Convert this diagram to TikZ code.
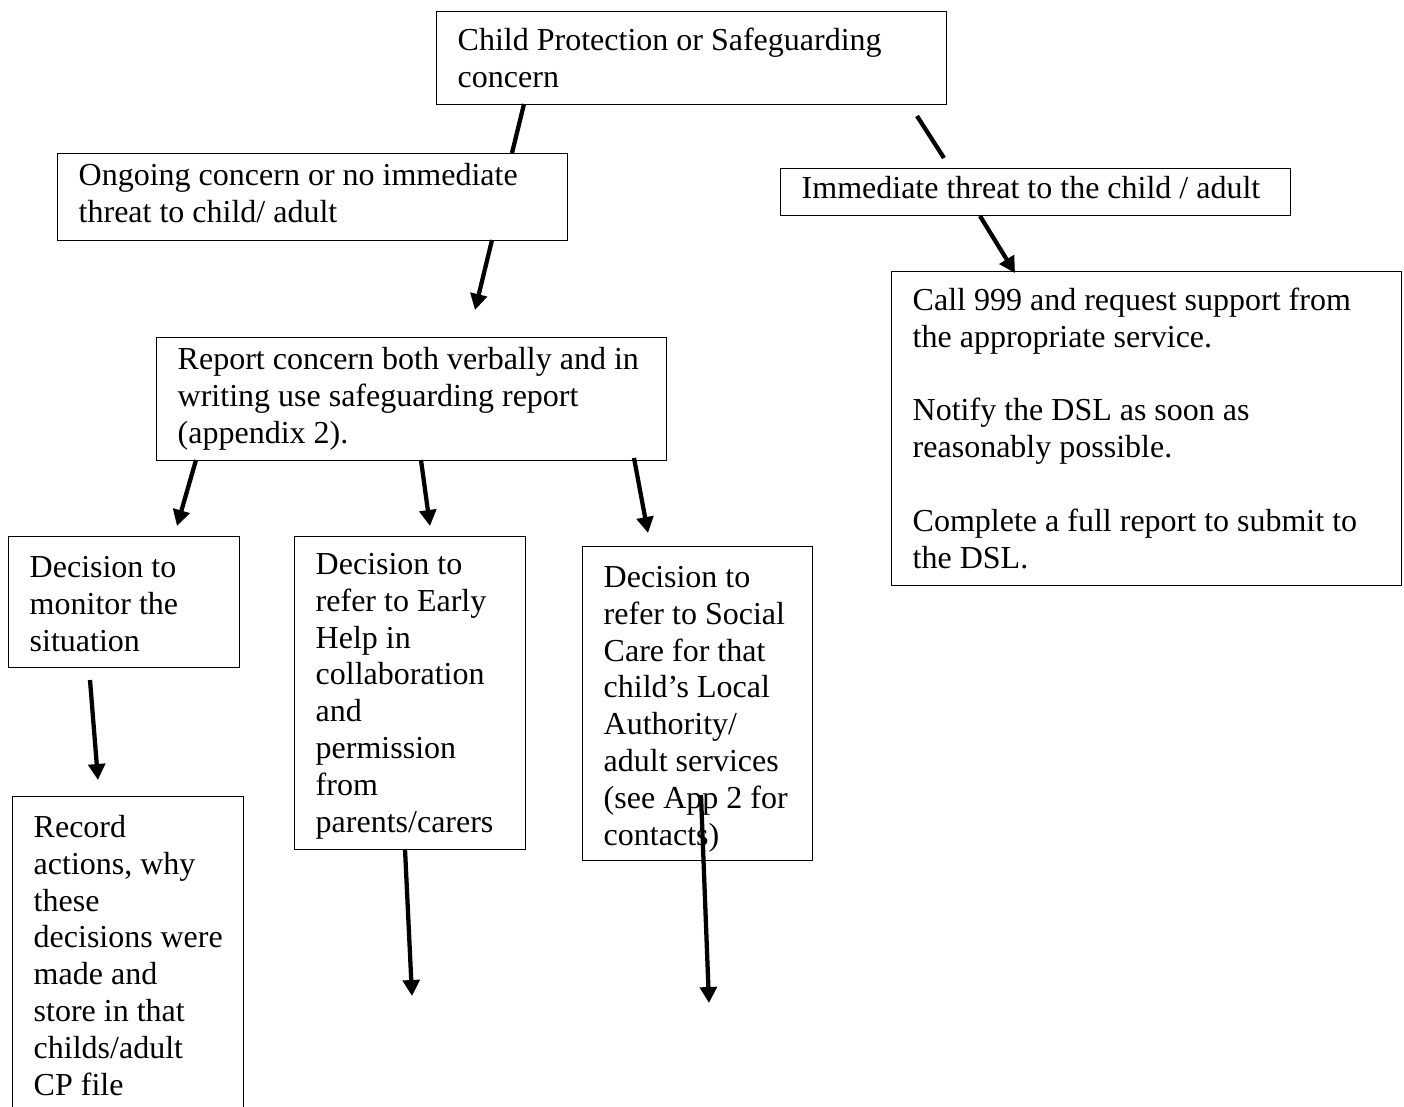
\documentclass[tikz,border=0pt]{standalone}
\usepackage{fontspec}
\setmainfont{Liberation Serif}
\usepackage{tikz}
\usetikzlibrary{arrows.meta}
\newlength\px
\setlength\px{0.75pt}
% width, height, top pad (all px), text
\newcommand{\boxtext}[4]{\begin{minipage}[t][#2\px][t]{#1\px}\vspace*{#3\px}\raggedright\strut #4\end{minipage}}
\tikzset{
  panel/.style={draw,line width=1.1pt,anchor=north west,inner xsep=15.75pt,inner ysep=0pt},
  link/.style={line width=3.2pt},
  pointer/.style={link,-{Triangle[length=12pt,width=12.5pt]}}
}

\begin{document}
\begin{tikzpicture}[x=0.75pt,y=-0.75pt,font=\fontsize{24pt}{27.6pt}\selectfont]
  \useasboundingbox (0,0) rectangle (1404,1107);
  % boxes
  \node[panel] (concern) at (436,11) {\boxtext{468}{93}{13}{Child Protection or Safeguarding\\concern}};
  \node[panel] (ongoing) at (57,153) {\boxtext{468}{87}{6}{Ongoing concern or no immediate\\threat to child/ adult}};
  \node[panel] (threat) at (780,168) {\boxtext{468}{47}{4}{Immediate threat to the child / adult}};
  \node[panel] (call) at (891,271) {\boxtext{468}{314}{13}{Call 999 and request support from\\the appropriate service.\\[\baselineskip]Notify the DSL as soon as\\reasonably possible.\\[\baselineskip]Complete a full report to submit to\\the DSL.}};
  \node[panel] (report) at (156,337) {\boxtext{468}{123}{6}{Report concern both verbally and in\\writing use safeguarding report\\(appendix 2).}};
  \node[panel] (monitor) at (8,536) {\boxtext{189}{131}{15}{Decision to\\monitor the\\situation}};
  \node[panel] (earlyhelp) at (294,536) {\boxtext{189}{313}{12}{Decision to\\refer to Early\\Help in\\collaboration\\and\\permission\\from\\parents/carers}};
  \node[panel] (socialcare) at (582,546) {\boxtext{188}{314}{15}{Decision to\\refer to Social\\Care for that\\child’s Local\\Authority/\\adult services\\(see App 2 for\\contacts)}};
  \node[panel] (record) at (12,796) {\boxtext{189}{330}{15}{Record\\actions, why\\these\\decisions were\\made and\\store in that\\childs/adult\\CP file}};
  % connector end points
  \coordinate (l1a) at (524,104);  \coordinate (l1b) at (512,153);
  \coordinate (l2a) at (917,116);  \coordinate (l2b) at (944,158);
  \coordinate (p1a) at (492,240);  \coordinate (p1b) at (475,310);
  \coordinate (p2a) at (980,216);  \coordinate (p2b) at (1015,273);
  \coordinate (p3a) at (196,460);  \coordinate (p3b) at (177,526);
  \coordinate (p4a) at (421,460);  \coordinate (p4b) at (430,526);
  \coordinate (p5a) at (634,458);  \coordinate (p5b) at (648,533);
  \coordinate (p6a) at (90,680);   \coordinate (p6b) at (98,780);
  \coordinate (p7a) at (405,849);  \coordinate (p7b) at (412,996);
  \coordinate (p8a) at (701,795);  \coordinate (p8b) at (709,1003);
  % lines and arrows
  \draw[link] (l1a) -- (l1b);
  \draw[link] (l2a) -- (l2b);
  \foreach \k in {1,...,8}
    \draw[pointer] (p\k a) -- (p\k b);
\end{tikzpicture}
\end{document}
